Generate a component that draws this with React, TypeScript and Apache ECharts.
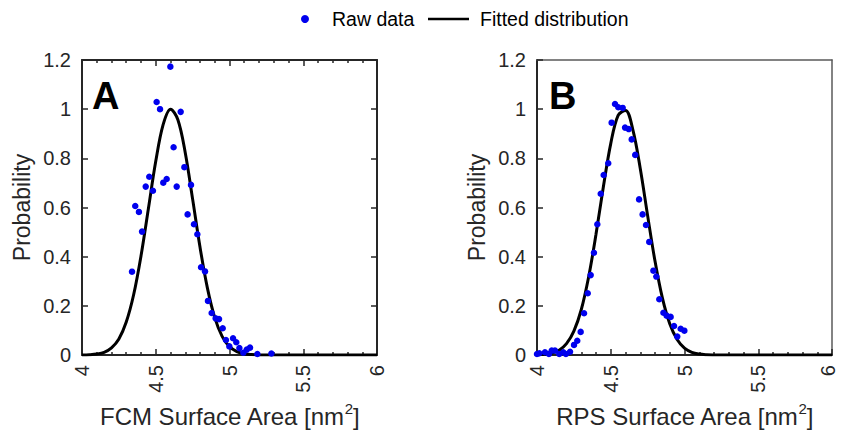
import React, { useEffect, useRef } from "react";
import * as echarts from "echarts";

// ---- Data ----
const aRawX = [4.339, 4.361, 4.386, 4.407, 4.432, 4.456, 4.481, 4.506, 4.529, 4.551, 4.574, 4.599, 4.621, 4.642, 4.669, 4.694, 4.716, 4.739, 4.759, 4.782, 4.807, 4.834, 4.854, 4.879, 4.906, 4.929, 4.954, 4.976, 4.999, 5.024, 5.046, 5.067, 5.094, 5.117, 5.139, 5.189, 5.284];
const aRawY = [0.339, 0.606, 0.582, 0.502, 0.685, 0.725, 0.668, 1.029, 1.0, 0.701, 0.716, 1.173, 0.845, 0.685, 0.989, 0.764, 0.572, 0.692, 0.532, 0.491, 0.357, 0.34, 0.22, 0.171, 0.149, 0.146, 0.109, 0.061, 0.035, 0.068, 0.052, 0.028, 0.009, 0.022, 0.03, 0.004, 0.006];

const bRawX = [4.0, 4.016, 4.054, 4.081, 4.1, 4.122, 4.151, 4.178, 4.196, 4.224, 4.251, 4.273, 4.296, 4.319, 4.344, 4.364, 4.386, 4.409, 4.432, 4.452, 4.483, 4.506, 4.529, 4.551, 4.581, 4.597, 4.622, 4.642, 4.666, 4.692, 4.716, 4.739, 4.761, 4.789, 4.809, 4.829, 4.857, 4.879, 4.906, 4.929, 4.951, 4.974, 4.999];
const bRawY = [0.004, 0.007, 0.011, 0.004, 0.018, 0.018, 0.004, 0.011, 0.004, 0.013, 0.041, 0.058, 0.094, 0.17, 0.251, 0.325, 0.416, 0.532, 0.656, 0.732, 0.78, 0.945, 1.021, 1.008, 1.005, 0.925, 0.919, 0.877, 0.814, 0.633, 0.572, 0.529, 0.46, 0.343, 0.319, 0.227, 0.172, 0.16, 0.155, 0.118, 0.075, 0.107, 0.099];

const fitX = [4.0, 4.05, 4.1, 4.15, 4.2, 4.25, 4.3, 4.35, 4.4, 4.45, 4.5, 4.55, 4.6, 4.65, 4.7, 4.75, 4.8, 4.85, 4.9, 4.95, 5.0, 5.05, 5.1, 5.15, 5.2, 5.25, 5.3, 5.5, 6.0];
const aFitY = [0.0004, 0.0013, 0.004, 0.011, 0.029, 0.065, 0.134, 0.245, 0.403, 0.595, 0.788, 0.937, 1.0, 0.957, 0.823, 0.634, 0.439, 0.273, 0.152, 0.076, 0.034, 0.014, 0.005, 0.0016, 0.0005, 0.0001, 0, 0, 0];
const bFitY = [0.0008, 0.0026, 0.0075, 0.019, 0.046, 0.097, 0.184, 0.317, 0.491, 0.684, 0.86, 0.975, 0.995, 0.916, 0.759, 0.567, 0.382, 0.232, 0.127, 0.063, 0.028, 0.011, 0.004, 0.0013, 0.0004, 0.0001, 0, 0, 0];

const xTitles = ["FCM", "RPS"];
const panelLetters = ["A", "B"];
const legendNames = ["Raw data", "Fitted distribution"];

const FONT = "'Liberation Sans', Arial, Helvetica, sans-serif";
const DARK = "#262626";
const GRAY = "#5a5a5a";
const BLUE = "#0000ee";

const zip = (xs: number[], ys: number[]) => xs.map((x, i) => [x, ys[i]]);

function bottomX(gi: number, title: string, nudgeLast: boolean) {
  return {
    gridIndex: gi,
    type: "value",
    position: "bottom",
    min: 4,
    max: 6,
    interval: 0.5,
    axisLine: { show: true, onZero: false, lineStyle: { color: DARK, width: 2 } },
    axisTick: { show: true, inside: true, length: 6, lineStyle: { color: DARK, width: 1.5 } },
    minorTick: { show: true, splitNumber: 5, length: 3, lineStyle: { color: DARK, width: 1.5 } },
    splitLine: { show: false },
    minorSplitLine: { show: false },
    axisLabel: {
      rotate: 90, fontSize: 20, lineHeight: 16, color: DARK, margin: 10, fontFamily: FONT,
      formatter: (v: number) => (nudgeLast && v === 6 ? `{e|${v}}` : `${v}`),
      rich: { e: { fontSize: 20, lineHeight: 16, color: DARK, fontFamily: FONT, padding: [0, 0, 8, 0] } },
    },
    name: `{t|${title} Surface Area [nm}{s|2}{t|]}`,
    nameLocation: "middle",
    nameGap: 44,
    nameTextStyle: {
      rich: {
        t: { fontSize: 24, color: DARK, fontFamily: FONT, lineHeight: 28, verticalAlign: "bottom" },
        s: { fontSize: 15, color: DARK, fontFamily: FONT, lineHeight: 28, verticalAlign: "top" },
      },
    },
  };
}

function topX(gi: number, ticks: boolean) {
  const c = ticks ? DARK : GRAY;
  return {
    gridIndex: gi,
    type: "value",
    position: "top",
    min: 4,
    max: 6,
    interval: 0.5,
    axisLine: { show: true, onZero: false, lineStyle: { color: c, width: ticks ? 2 : 1.5 } },
    axisTick: { show: ticks, inside: true, length: 6, lineStyle: { color: DARK, width: 1.5 } },
    minorTick: { show: ticks, splitNumber: 5, length: 3, lineStyle: { color: DARK, width: 1.5 } },
    splitLine: { show: false },
    axisLabel: { show: false },
  };
}

function leftY(gi: number) {
  return {
    gridIndex: gi,
    type: "value",
    position: "left",
    min: 0,
    max: 1.2,
    interval: 0.2,
    axisLine: { show: true, onZero: false, lineStyle: { color: DARK, width: 2 } },
    axisTick: { show: true, inside: true, length: 6, lineStyle: { color: DARK, width: 1.5 } },
    splitLine: { show: false },
    axisLabel: { fontSize: 20, color: DARK, margin: 11, fontFamily: FONT },
    name: "Probability",
    nameLocation: "middle",
    nameGap: 49,
    nameTextStyle: { fontSize: 23, color: DARK, fontFamily: FONT },
  };
}

function rightY(gi: number, ticks: boolean) {
  const c = ticks ? DARK : GRAY;
  return {
    gridIndex: gi,
    type: "value",
    position: "right",
    min: 0,
    max: 1.2,
    interval: 0.2,
    axisLine: { show: true, onZero: false, lineStyle: { color: c, width: ticks ? 2 : 1.5 } },
    axisTick: { show: ticks, inside: true, length: 6, lineStyle: { color: DARK, width: 1.5 } },
    splitLine: { show: false },
    axisLabel: { show: false },
  };
}

export default function App() {
  const ref = useRef<HTMLDivElement>(null);
  useEffect(() => {
    if (!ref.current) return;
    const chart = echarts.init(ref.current, null, { renderer: "svg" });
    const option: any = {
      animation: false,
      backgroundColor: "#ffffff",
      grid: [
        { left: 82, top: 60, width: 295, height: 295, containLabel: false, outerBoundsMode: "none" },
        { left: 537, top: 60, width: 295, height: 295, containLabel: false, outerBoundsMode: "none" },
      ],
      xAxis: [bottomX(0, xTitles[0], false), topX(0, true), bottomX(1, xTitles[1], true), topX(1, false)],
      yAxis: [leftY(0), rightY(0, true), leftY(1), rightY(1, false)],
      series: [
        {
          name: legendNames[1], type: "line", xAxisIndex: 0, yAxisIndex: 0,
          data: zip(fitX, aFitY), smooth: 0.35, showSymbol: false, symbol: "none",
          lineStyle: { color: "#000", width: 3 }, z: 2,
        },
        {
          name: legendNames[0], type: "scatter", xAxisIndex: 0, yAxisIndex: 0,
          data: zip(aRawX, aRawY), symbolSize: 6.5, itemStyle: { color: BLUE, opacity: 1 }, z: 3,
        },
        {
          name: legendNames[1], type: "line", xAxisIndex: 2, yAxisIndex: 2,
          data: zip(fitX, bFitY), smooth: 0.35, showSymbol: false, symbol: "none",
          lineStyle: { color: "#000", width: 3 }, z: 2,
        },
        {
          name: legendNames[0], type: "scatter", xAxisIndex: 2, yAxisIndex: 2,
          data: zip(bRawX, bRawY), symbolSize: 6.5, itemStyle: { color: BLUE, opacity: 1 }, z: 3,
        },
      ],
      graphic: [
        { type: "circle", shape: { cx: 305, cy: 19, r: 4 }, style: { fill: BLUE } },
        { type: "text", x: 332, y: 19, style: { text: legendNames[0], fontSize: 19.5, fontFamily: FONT, fill: "#000", verticalAlign: "middle" } },
        { type: "line", shape: { x1: 428, y1: 19, x2: 469, y2: 19 }, style: { stroke: "#000", lineWidth: 2.5 } },
        { type: "text", x: 480, y: 19, style: { text: legendNames[1], fontSize: 19.5, fontFamily: FONT, fill: "#000", verticalAlign: "middle" } },
        { type: "text", x: 92, y: 96, style: { text: panelLetters[0], fontSize: 38, fontWeight: "bold", fontFamily: FONT, fill: "#000", verticalAlign: "middle" } },
        { type: "text", x: 549, y: 96, style: { text: panelLetters[1], fontSize: 38, fontWeight: "bold", fontFamily: FONT, fill: "#000", verticalAlign: "middle" } },
      ],
    };
    chart.setOption(option);
    return () => chart.dispose();
  }, []);
  return <div ref={ref} style={{ position: "fixed", left: 0, top: 0, width: 841, height: 435 }} />;
}
